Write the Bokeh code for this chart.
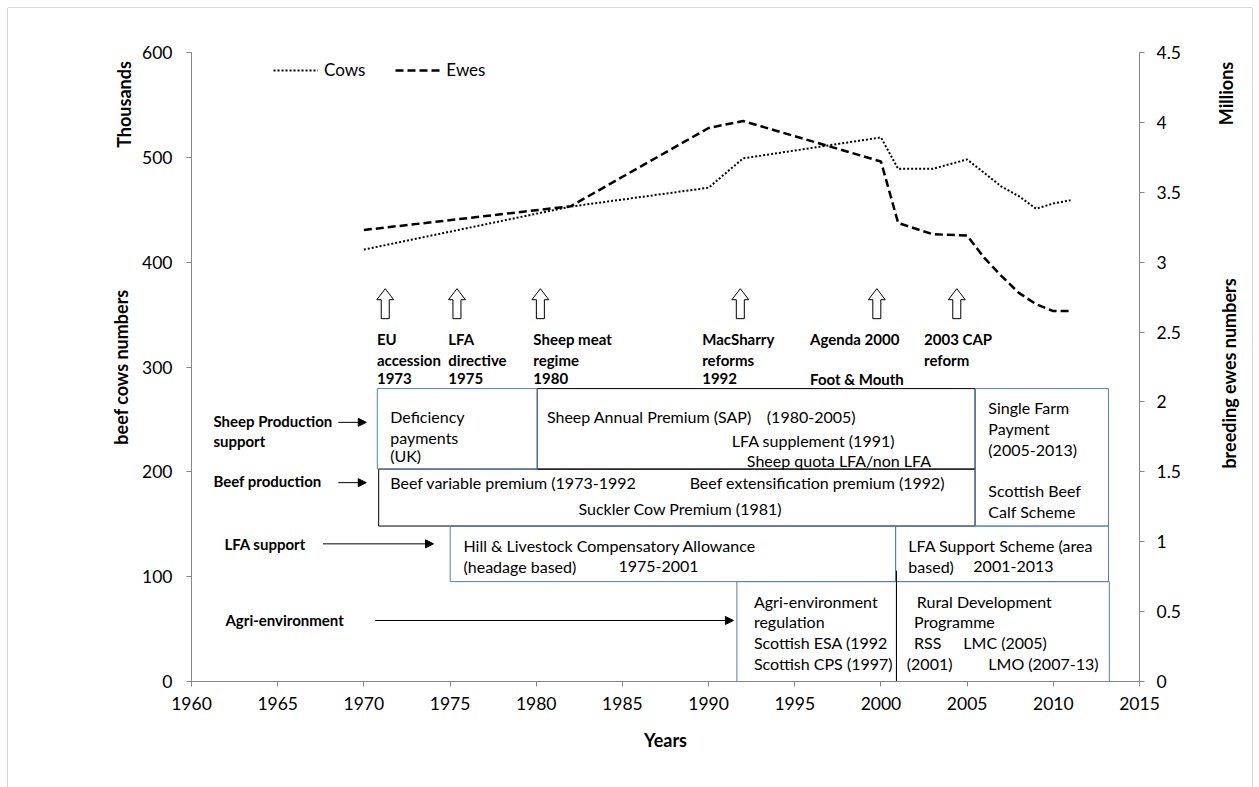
import math
from bokeh.plotting import figure
from bokeh.models import (Range1d, LinearAxis, FixedTicker, Label, Arrow, NormalHead,
                          Legend, LegendItem, CustomJSTickFormatter)
from bokeh.core.properties import value
from bokeh.embed import file_html
from bokeh.resources import INLINE

FONT = "Lato"
BLUE = "#4f81bd"

# ---------------- data ----------------
cow_years = [1970, 1982, 1990, 1992, 2000, 2001, 2003, 2005, 2006, 2007, 2008, 2009, 2010, 2011]
cows_thousands = [412, 453, 471, 499, 519, 489, 489, 498, 485, 472, 463, 451, 456, 459]
ewe_years = [1970, 1982, 1990, 1992, 2000, 2001, 2003, 2005, 2006, 2007, 2008, 2009, 2010, 2011]
ewes_millions = [3.23, 3.40, 3.96, 4.01, 3.72, 3.28, 3.20, 3.19, 3.03, 2.90, 2.78, 2.70, 2.65, 2.65]
x_ticks = [1960, 1965, 1970, 1975, 1980, 1985, 1990, 1995, 2000, 2005, 2010, 2015]
left_ticks = [0, 100, 200, 300, 400, 500, 600]
right_ticks = [0, 0.5, 1, 1.5, 2, 2.5, 3, 3.5, 4, 4.5]

# policy event arrows (year position)
event_x = [1971.24, 1975.40, 1980.24, 1991.84, 1999.76, 2004.40]

p = figure(width=1244, height=779, x_range=Range1d(1960, 2015), y_range=Range1d(0, 600),
           output_backend="svg", toolbar_location=None,
           min_border_left=183, min_border_right=113, min_border_top=44, min_border_bottom=106)
p.outline_line_color = None
p.grid.visible = False
p.background_fill_color = "white"
p.border_fill_color = "white"
p.styles = {"margin": "8px 0 0 8px",
            "box-shadow": "-1px 0 0 #d9d9d9, 1px 0 0 #d9d9d9, 0 -1px 0 #d9d9d9"}

p.extra_y_ranges = {"ewes": Range1d(0, 4.5)}
rax = LinearAxis(y_range_name="ewes", ticker=FixedTicker(ticks=right_ticks),
                 formatter=CustomJSTickFormatter(code="return String(tick);"))
p.add_layout(rax, "right")
p.xaxis.ticker = FixedTicker(ticks=x_ticks)
p.yaxis[0].ticker = FixedTicker(ticks=left_ticks)

for ax in [p.xaxis[0], p.yaxis[0], rax]:
    ax.axis_line_color = "#868686"
    ax.major_tick_line_color = "#868686"
    ax.major_tick_out = 5
    ax.major_tick_in = 0
    ax.minor_tick_line_color = None
    ax.major_label_text_font = FONT
    ax.major_label_text_font_size = "17.5px"
    ax.major_label_text_color = "black"
    ax.axis_label_text_font = FONT
    ax.axis_label_text_font_style = "bold"
    ax.axis_label_text_font_size = "18px"
    ax.axis_label_text_color = "black"
p.xaxis[0].major_label_standoff = 10
p.yaxis[0].major_label_standoff = 14
rax.major_label_standoff = 12
p.xaxis[0].axis_label = "Years"
p.xaxis[0].axis_label_standoff = 16
p.yaxis[0].axis_label = "beef cows numbers"
p.yaxis[0].axis_label_standoff = 7

# ---------------- boxes ----------------
# black boxes first
p.quad(left=[1980.06, 1970.86], right=[2005.46, 2005.46], bottom=[202.6, 148.3], top=[279.4, 202.6],
       fill_color=None, line_color="black", line_width=1)
# blue boxes
p.quad(left=[1970.78, 2005.46, 1975.01, 2000.85, 1991.64, 2000.9],
       right=[1980.06, 2013.2, 2000.85, 2013.2, 2000.9, 2013.25],
       bottom=[202.6, 148.3, 95.3, 95.3, 0, 0],
       top=[279.4, 279.4, 148.3, 148.3, 95.3, 95.3],
       fill_color=None, line_color=BLUE, line_width=1)
p.segment(x0=[2000.9], y0=[0], x1=[2000.9], y1=[105.8], line_color="black", line_width=1)

# ---------------- lines ----------------
r_cows = p.line(cow_years, cows_thousands, line_color="black", line_width=2, line_dash="2 2")
r_ewes = p.line(ewe_years, ewes_millions, y_range_name="ewes", line_color="black",
                line_width=2.5, line_dash="8 4")

legend = Legend(items=[LegendItem(label="Cows", renderers=[r_cows]),
                       LegendItem(label="Ewes", renderers=[r_ewes])],
                orientation="horizontal", location=(82, 601), glyph_width=45, glyph_height=20,
                label_height=20, label_standoff=6, spacing=30, padding=0, margin=0,
                border_line_color=None, background_fill_alpha=0,
                label_text_font=FONT, label_text_font_size="17px", label_text_color="black")
p.add_layout(legend)

# ---------------- hollow event arrows ----------------
sw, hw, ab, ahb, at = 0.232, 0.49, 346.1, 364.2, 374.7
axs = [[c - sw, c - sw, c - hw, c, c + hw, c + sw, c + sw] for c in event_x]
ays = [[ab, ahb, ahb, at, ahb, ahb, ab] for _ in event_x]
p.patches(axs, ays, fill_color="white", line_color="black", line_width=1)

def txt(xs, ys, texts, size="16px", bold=False):
    p.text(x=xs, y=ys, text=texts, text_font=value(FONT), text_font_size=size,
           text_font_style="bold" if bold else "normal", text_baseline="middle",
           text_align="left", text_color="black")

# event labels (bold)
txt([1970.76, 1970.76, 1970.76, 1974.90, 1974.90, 1974.90, 1979.83, 1979.83, 1979.83,
     1989.63, 1989.63, 1989.63, 1995.89, 1995.89, 2002.50, 2002.50],
    [327.0, 307.0, 288.9, 327.0, 307.0, 288.9, 327.0, 307.0, 288.9,
     327.0, 307.0, 288.9, 327.0, 288.9, 327.0, 307.0],
    ["EU", "accession", "1973", "LFA", "directive", "1975", "Sheep meat", "regime", "1980",
     "MacSharry", "reforms", "1992", "Agenda 2000", "Foot & Mouth", "2003 CAP", "reform"],
    size="15px", bold=True)

# side category labels (bold)
txt([1961.27, 1961.27, 1961.27, 1961.91, 1961.97],
    [248.9, 229.8, 191.3, 131.3, 58.2],
    ["Sheep Production", "support", "Beef production", "LFA support", "Agri-environment"],
    size="15px", bold=True)

# pointer arrows
for (x0, x1, yy) in [(1968.52, 1970.14, 247.2), (1968.52, 1970.14, 189.7),
                     (1967.63, 1974.04, 131.3), (1970.66, 1991.44, 58.2)]:
    p.add_layout(Arrow(x_start=x0, y_start=yy, x_end=x1, y_end=yy, line_color="black", line_width=1,
                       end=NormalHead(size=8, fill_color="black", line_color="black")))

# box texts
txt([1971.53, 1971.53, 1971.53, 1980.62, 1993.38, 1991.35, 1992.22],
    [252.7, 232.9, 215.5, 252.7, 252.7, 229.8, 210.7],
    ["Deficiency", "payments", "(UK)", "Sheep Annual Premium (SAP)", "(1980-2005)",
     "LFA supplement (1991)", "Sheep quota LFA/non LFA"])
txt([1971.53, 1988.9, 1982.45],
    [189.7, 189.7, 164.7],
    ["Beef variable premium (1973-1992", "Beef extensification premium (1992)",
     "Suckler Cow Premium (1981)"])
txt([2006.23] * 5, [261.5, 240.9, 220.9, 182.1, 162.4],
    ["Single Farm", "Payment", "(2005-2013)", "Scottish Beef", "Calf Scheme"])
txt([1975.78, 1975.78, 1984.77, 2001.59, 2001.59, 2005.36],
    [129.7, 109.6, 109.6, 129.7, 109.6, 109.6],
    ["Hill & Livestock Compensatory Allowance", "(headage based)", "1975-2001",
     "LFA Support Scheme (area", "based)", "2001-2013"])
txt([1992.63] * 4, [76.6, 57.5, 37.5, 16.9],
    ["Agri-environment", "regulation", "Scottish ESA (1992", "Scottish CPS (1997)"])
txt([2002.08, 2001.92, 2001.92, 2004.78, 2001.50, 2006.23],
    [76.6, 57.5, 37.5, 37.5, 16.9, 16.9],
    ["Rural Development", "Programme", "RSS", "LMC (2005)", "(2001)", "LMO (2007-13)"])

# unit / axis titles placed in the side panels
def side_label(place, sx, sy, text):
    p.add_layout(Label(x=sx, y=sy, x_units="screen", y_units="screen", text=text, angle=math.pi / 2,
                       text_align="center", text_baseline="middle", text_font=FONT,
                       text_font_style="bold", text_font_size="18px", text_color="black"), place)

side_label("left", 38, 577, "Thousands")
side_label("right", 42, 588, "Millions")
side_label("right", 23, 308, "breeding ewes numbers")

open("out.html", "w").write(file_html(p, INLINE))
